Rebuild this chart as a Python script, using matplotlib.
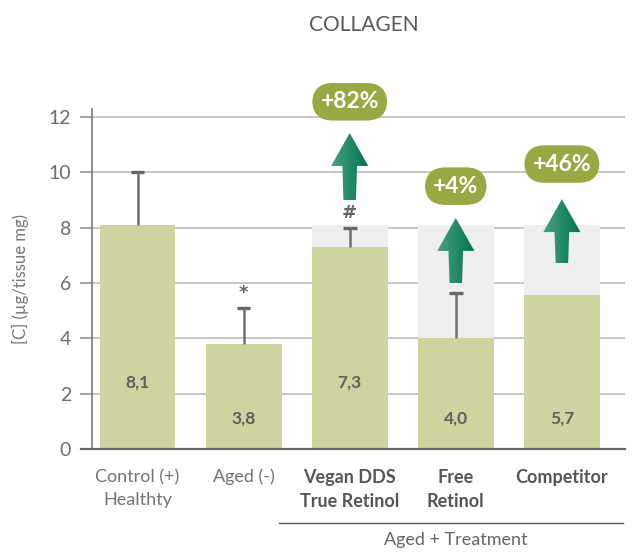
import matplotlib
matplotlib.use("Agg")
import matplotlib.pyplot as plt
import numpy as np
from matplotlib.patches import Polygon
from matplotlib.colors import LinearSegmentedColormap

categories = ["Control (+)\nHealthty", "Aged (-)", "Vegan DDS\nTrue Retinol", "Free\nRetinol", "Competitor"]
bold_cat = [False, False, True, True, True]
values = [8.1, 3.8, 7.3, 4.0, 5.55]
value_labels = ["8,1", "3,8", "7,3", "4,0", "5,7"]
label_y = [2.4, 1.1, 2.4, 1.1, 1.1]
err_top = [10.0, 5.1, 8.0, 5.65, None]
markers = [None, "*", "#", None, None]
ref_level = 8.1
treat_idx = [2, 3, 4]
pct_labels = ["+82%", "+4%", "+46%"]
arrow_base = [9.0, 6.0, 6.72]
arrow_tip = [11.42, 8.35, 9.03]
badge_y = [12.55, 9.5, 10.3]
yticks = [0, 2, 4, 6, 8, 10, 12]

plt.rcParams['font.family'] = ['Lato', 'DejaVu Sans']

fig = plt.figure(figsize=(6.35, 5.53), dpi=100)
ax = fig.add_axes([92/635, 104/553, 533/635, 340.3/553])
ax.set_xlim(-0.429, 4.595)
ax.set_ylim(0, 12.3)

bar_col = "#cfd3a0"
bg_col = "#efefef"
x = np.arange(len(categories))

for yt in yticks[1:]:
    ax.axhline(yt, color="#bdbdbd", lw=1.2, zorder=0)

bw = 0.716
ax.bar([x[i] for i in treat_idx], [ref_level]*len(treat_idx), width=bw, color=bg_col, zorder=1)
ax.bar(x, values, width=bw, color=bar_col, zorder=2)

for i in range(len(categories)):
    if err_top[i] is not None:
        ax.vlines(x[i], values[i], err_top[i], color="#6e6e6e", lw=1.8, zorder=3)
        ax.plot([x[i] - 0.065, x[i] + 0.065], [err_top[i], err_top[i]], color="#666666",
                lw=2.4, solid_capstyle="butt", zorder=3)
    if markers[i]:
        ax.text(x[i], err_top[i] + 0.2, markers[i], ha="center", va="bottom",
                fontsize=13, fontweight="bold", color="#666666", zorder=4,
                family="DejaVu Sans")
    ax.text(x[i], label_y[i], value_labels[i], ha="center", va="center",
            fontsize=12.5, fontweight="bold", color="#5f5f5f", zorder=4)

# arrows with gradient
cmap = LinearSegmentedColormap.from_list("g", ["#4aa088", "#00744c"])
grad = np.linspace(0, 1, 100).reshape(1, -1)
shaft_w = 0.118
head_w = 0.35
head_len = 1.19
for k, i in enumerate(treat_idx):
    cx = x[i]
    b, t = arrow_base[k], arrow_tip[k]
    hb = t - head_len
    pts = [(cx - shaft_w/2, b), (cx - shaft_w/2 - 0.01, hb), (cx - head_w/2, hb), (cx, t),
           (cx + head_w/2, hb), (cx + shaft_w/2 + 0.01, hb), (cx + shaft_w/2, b)]
    poly = Polygon(pts, closed=True, facecolor="none", edgecolor="none", zorder=5)
    ax.add_patch(poly)
    im = ax.imshow(grad, cmap=cmap, aspect="auto",
                   extent=[cx - head_w/2, cx + head_w/2, b, t], zorder=5)
    im.set_clip_path(poly)
    ax.text(cx, badge_y[k], pct_labels[k], ha="center", va="center", color="white",
            fontsize=16.5, fontweight="bold", zorder=7, clip_on=False,
            bbox=dict(boxstyle="round,pad=0.36,rounding_size=0.9",
                      facecolor="#99a843", edgecolor="none"))

ax.set_xlim(-0.429, 4.595)
ax.set_ylim(0, 12.3)

for s in ["top", "right"]:
    ax.spines[s].set_visible(False)
ax.spines["left"].set_color("#7a7a7a")
ax.spines["left"].set_linewidth(1.2)
ax.spines["bottom"].set_color("#666666")
ax.spines["bottom"].set_linewidth(1.6)
ax.spines["bottom"].set_bounds(-0.53, 4.595)
ax.spines["bottom"].set_position(("data", 0))

ax.set_yticks(yticks)
ax.set_yticklabels([str(v) for v in yticks], fontsize=14, color="#6e6e6e")
ax.tick_params(axis="y", length=9, width=1.1, color="#8a8a8a", pad=6)
ax.set_xticks([])

for i, c in enumerate(categories):
    ax.text(x[i], -0.72, c, ha="center", va="top", fontsize=13,
            fontweight="bold" if bold_cat[i] else "normal",
            color="#555555" if bold_cat[i] else "#747474",
            linespacing=1.5, clip_on=False)

ax.plot([1.33, 4.58], [-2.69, -2.69], color="#555555", lw=1, clip_on=False)
ax.text(3.0, -3.0, "Aged + Treatment", ha="center", va="top", fontsize=13,
        color="#666666", clip_on=False)

ax.set_ylabel("[C] (µg/tissue mg)", fontsize=12, color="#777777", labelpad=14)
fig.text(364/635, 1 - 25/553, "COLLAGEN", ha="center", va="center", fontsize=15,
         color="#5a5a5a")

fig.savefig("out.png", dpi=100)
